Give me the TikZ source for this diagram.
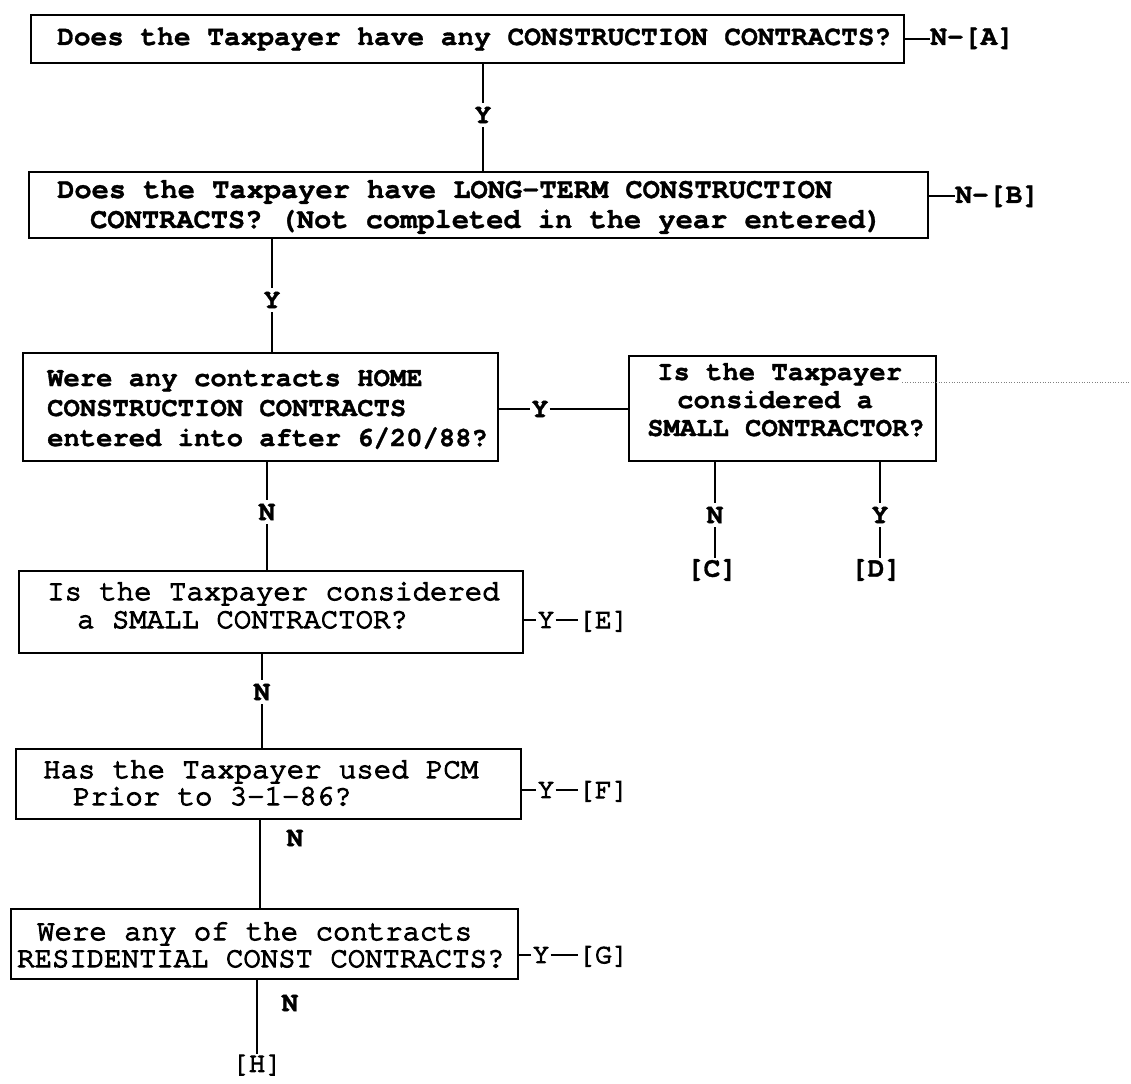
\documentclass[tikz,border=0pt]{standalone}
\usepackage{fontspec}
\setmainfont{Liberation Serif}
\newfontfamily\courbold[FakeBold=1.2]{texgyrecursor-bold.otf}
\newfontfamily\courmed[FakeBold=4]{texgyrecursor-regular.otf}
\newcommand\qboldA{\courbold\fontsize{27.8}{30}\selectfont}
\newcommand\qboldB{\courbold\fontsize{28.7}{30}\selectfont}
\newcommand\qbold{\courbold\fontsize{27.2}{30}\selectfont}
\newcommand\qlab{\courbold\fontsize{28}{30}\selectfont}
\newcommand\qmed{\courmed\fontsize{29}{30}\selectfont}
\newcommand\qmedlab{\courmed\fontsize{28}{30}\selectfont}
\begin{document}
\begin{tikzpicture}[x=1pt,y=-1pt,
  box/.style={draw, line width=1.8pt, inner sep=0pt, anchor=north west},
  tb/.style={font=\qbold, inner sep=0pt, anchor=base west},
  tr/.style={font=\qmed, inner sep=0pt, anchor=base west},
  trl/.style={font=\qmedlab, inner sep=0pt, anchor=base west},
  lb/.style={font=\qlab, inner sep=4pt},
  lr/.style={font=\qmedlab, inner sep=1pt},
  conn/.style={line width=1.8pt}]
\useasboundingbox (0,0) rectangle (1131,1083);

% Box 1
\node[box, minimum width=873pt, minimum height=48pt] (b1) at (30,14) {};
\node[tb, font=\qboldA] (t1) at (57,45) {Does the Taxpayer have any CONSTRUCTION CONTRACTS?};
\node[tb, font=\qlab] (la) at (930,45) {N-[A]};
\draw[conn] (b1.east) -- (b1.east -| la.west);

% Y between 1 and 2
\node[lb] (y1) at (483,115) {Y};

% Box 2
\node[box, minimum width=899pt, minimum height=66pt] (b2) at (28,171) {};
\node[tb, font=\qboldB] (t2a) at (57,198) {Does the Taxpayer have LONG-TERM CONSTRUCTION};
\node[tb, font=\qboldB] (t2b) at (90,228) {CONTRACTS? (Not completed in the year entered)};
\node[tb, font=\qlab] (lbB) at (955,203) {N-[B]};
\draw[conn] (lbB.west -| b2.east) -- (lbB.west);

\draw[conn] (y1.north |- b1.south) -- (y1.north);
\draw[conn] (y1.south) -- (y1.south |- b2.north);

% Y between 2 and 3
\node[lb] (y2) at (272,300) {Y};

% Box 3
\node[box, minimum width=475pt, minimum height=108pt] (b3) at (22,352) {};
\node[tb] (t3a) at (47,386) {Were any contracts HOME};
\node[tb] (t3b) at (47,416) {CONSTRUCTION CONTRACTS};
\node[tb] (t3c) at (47,446) {entered into after 6/20/88?};

\draw[conn] (y2.north |- b2.south) -- (y2.north);
\draw[conn] (y2.south) -- (y2.south |- b3.north);

% Box 4
\node[box, minimum width=307pt, minimum height=105pt] (b4) at (628,355) {};
\node[tb] (t4a) at (657,380) {Is the Taxpayer};
\node[tb] (t4b) at (677,408) {considered a};
\node[tb] (t4c) at (647,436) {SMALL CONTRACTOR?};
\coordinate (dotend) at (1131,382);
\draw[dotted, line width=0.6pt, gray] (t4a.east |- dotend) -- (dotend);

% Y between 3 and 4
\node[lb, inner sep=1pt] (y3) at (540,409) {Y};
\draw[conn] (y3.west -| b3.east) -- (y3.west);
\draw[conn] (y3.east) -- (y3.east -| b4.west);

% Box 4 outcomes
\node[lb] (n4) at (715,515) {N};
\node[lb] (y4) at (880,515) {Y};
\node[lb, inner sep=0.5pt] (lc) at (712,570) {[C]};
\node[lb, inner sep=0.5pt] (ld) at (876,570) {[D]};
\draw[conn] (n4.north |- b4.south) -- (n4.north);
\draw[conn, line width=1.4pt] (n4.south) -- (n4.south |- lc.north);
\draw[conn] (y4.north |- b4.south) -- (y4.north);
\draw[conn, line width=1.4pt] (y4.south) -- (y4.south |- ld.north);

% N between 3 and 5
\node[lb] (n3) at (267,512) {N};

% Box 5
\node[box, minimum width=504pt, minimum height=82pt] (b5) at (18,570) {};
\node[tr] (t5a) at (47,600) {Is the Taxpayer considered};
\node[tr] (t5b) at (77,628) {a SMALL CONTRACTOR?};
\node[lr] (ye) at (546,620) {Y};
\node[trl] (le) at (578,628) {[E]};
\draw[conn] (ye.west -| b5.east) -- (ye.west);
\draw[conn] (ye.east) -- (ye.east -| le.west);

\draw[conn] (n3.north |- b3.south) -- (n3.north);
\draw[conn] (n3.south) -- (n3.south |- b5.north);

% N between 5 and 6
\node[lb] (n5) at (262,692) {N};

% Box 6
\node[box, minimum width=505pt, minimum height=70pt] (b6) at (15,748) {};
\node[tr] (t6a) at (43,778) {Has the Taxpayer used PCM};
\node[tr] (t6b) at (73,805) {Prior to 3-1-86?};
\node[lr] (yf) at (546,790) {Y};
\node[trl] (lf) at (578,798) {[F]};
\draw[conn] (yf.west -| b6.east) -- (yf.west);
\draw[conn] (yf.east) -- (yf.east -| lf.west);

\draw[conn] (n5.north |- b5.south) -- (n5.north);
\draw[conn] (n5.south) -- (n5.south |- b6.north);

% Box 7
\node[box, minimum width=507pt, minimum height=70pt] (b7) at (10,908) {};
\node[tr] (t7a) at (37,940) {Were any of the contracts};
\node[tr] (t7b) at (17,967) {RESIDENTIAL CONST CONTRACTS?};
\node[lr] (yg) at (541,955) {Y};
\node[trl] (lg) at (578,963) {[G]};
\draw[conn] (yg.west -| b7.east) -- (yg.west);
\draw[conn] (yg.east) -- (yg.east -| lg.west);

% 6 -> 7 with N beside
\coordinate (c67) at (260,0);
\node[lb] (n6) at (295,838) {N};
\draw[conn] (c67 |- b6.south) -- (c67 |- b7.north);

% 7 -> H with N beside
\node[lr, inner sep=0.5pt] (lh) at (257,1065) {[H]};
\node[lb] (n7) at (290,1003) {N};
\draw[conn] (lh.north |- b7.south) -- (lh.north);
\end{tikzpicture}
\end{document}
